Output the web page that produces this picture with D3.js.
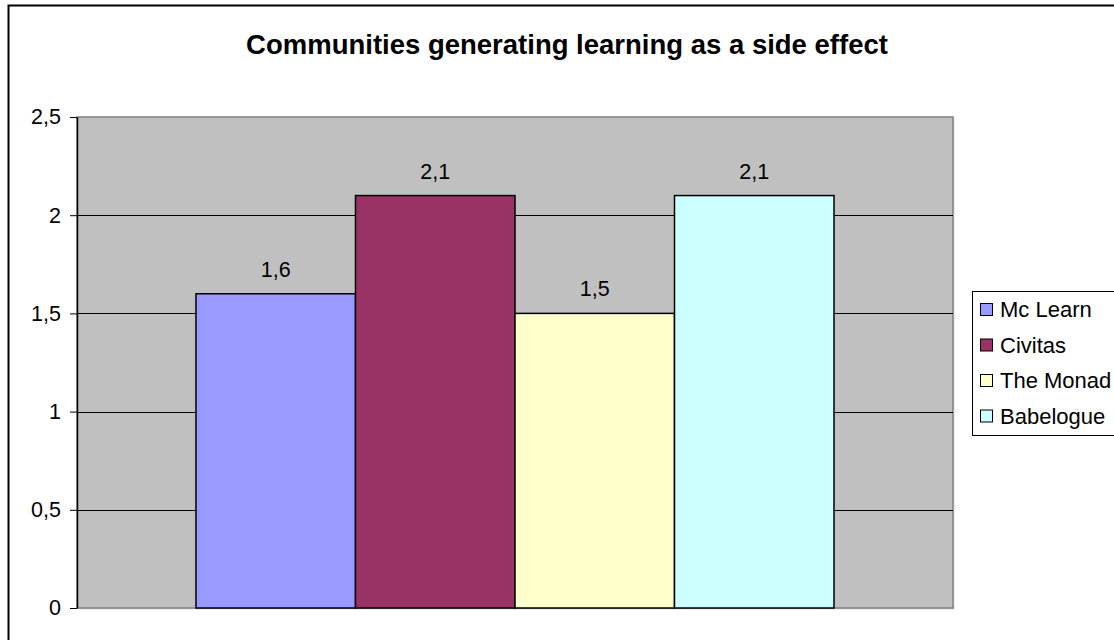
<!DOCTYPE html>
<html>
<head>
<meta charset="utf-8">
<script src="https://cdn.jsdelivr.net/npm/d3@7"></script>
<style>
	body { margin: 0; background: #fff; }
	svg { display: block; font-family: "Liberation Sans", Arial, sans-serif; }
</style>
</head>
<body>
<div id="chart"></div>
<script>
// values
var series = ["Mc Learn", "Civitas", "The Monad", "Babelogue"];
var values = [1.6, 2.1, 1.5, 2.1];
var colors = ["#9999ff", "#993366", "#ffffcc", "#ccffff"];
var yTicks = [0, 0.5, 1, 1.5, 2, 2.5];
var title = "Communities generating learning as a side effect";

var W = 1114, H = 640;
var plot = {left: 77, top: 117, right: 953, bottom: 608};
var fmt = d => String(d).replace(".", ",");

var svg = d3.select("#chart").append("svg")
		.attr("width", W)
		.attr("height", H);

// outer chart frame, right and bottom run off the picture
svg.append("rect")
		.attr("x", 8.5).attr("y", 5.5)
		.attr("width", W).attr("height", H)
		.attr("fill", "#fff")
		.attr("stroke", "#000")
		.attr("stroke-width", 2);

svg.append("text")
		.attr("x", 567).attr("y", 54)
		.attr("text-anchor", "middle")
		.attr("font-size", 27.5)
		.attr("font-weight", "bold")
		.text(title);

var y = d3.scaleLinear()
		.domain([0, 2.5])
		.range([plot.bottom, plot.top]);

var x = d3.scaleBand()
		.domain(series)
		.range([plot.left, plot.right])
		.paddingInner(0)
		.paddingOuter(0.746);

// plot area
svg.append("rect")
		.attr("x", plot.left + 1.5).attr("y", plot.top + 1.5)
		.attr("width", plot.right - plot.left).attr("height", plot.bottom - plot.top)
		.attr("fill", "#d9d9d9");
svg.append("rect")
		.attr("x", plot.left).attr("y", plot.top)
		.attr("width", plot.right - plot.left).attr("height", plot.bottom - plot.top)
		.attr("fill", "#c0c0c0")
		.attr("stroke", "#808080")
		.attr("stroke-width", 1.5);

// gridlines
svg.append("g")
	.selectAll("line")
	.data(yTicks.filter(d => d > 0 && d < 2.5))
	.enter().append("line")
		.attr("x1", plot.left).attr("x2", plot.right)
		.attr("y1", d => Math.round(y(d)) + 0.5)
		.attr("y2", d => Math.round(y(d)) + 0.5)
		.attr("stroke", "#000")
		.attr("stroke-width", 1);

// y axis
var yaxis = d3.axisLeft(y)
		.tickValues(yTicks)
		.tickFormat(fmt)
		.tickSize(7)
		.tickPadding(9)
		.tickSizeOuter(0);

var ax = svg.append("g")
		.attr("transform", `translate(${plot.left}, 0)`)
		.call(yaxis);
ax.select(".domain").attr("stroke", "#000").attr("stroke-width", 1.5);
ax.selectAll("text")
		.attr("font-size", 21.5)
		.attr("font-family", "Liberation Sans, Arial, sans-serif")
		.attr("fill", "#000");

// bars
svg.append("g")
	.selectAll("rect")
	.data(series)
	.enter().append("rect")
		.attr("x", d => x(d))
		.attr("y", (d, i) => y(values[i]))
		.attr("width", x.bandwidth())
		.attr("height", (d, i) => y(0) - y(values[i]))
		.attr("fill", (d, i) => colors[i])
		.attr("stroke", "#000")
		.attr("stroke-width", 1.5);

// value labels
svg.append("g")
	.selectAll("text")
	.data(series)
	.enter().append("text")
		.attr("x", d => x(d) + x.bandwidth() / 2)
		.attr("y", (d, i) => y(values[i]) - 17)
		.attr("text-anchor", "middle")
		.attr("font-size", 21.5)
		.text((d, i) => fmt(values[i]));

// legend, box runs off the right edge
var legend = svg.append("g");
legend.append("rect")
		.attr("x", 972.5).attr("y", 291.5)
		.attr("width", 160).attr("height", 144)
		.attr("fill", "#fff")
		.attr("stroke", "#000")
		.attr("stroke-width", 1);

var item = legend.selectAll(".item")
		.data(series)
	.enter().append("g")
		.attr("class", "item")
		.attr("transform", (d, i) => `translate(980, ${309 + i * 35.5})`);

item.append("rect")
		.attr("x", 0.5).attr("y", -5.5)
		.attr("width", 12).attr("height", 12)
		.attr("fill", (d, i) => colors[i])
		.attr("stroke", "#000")
		.attr("stroke-width", 1);

item.append("text")
		.attr("x", 20)
		.attr("y", 8)
		.attr("font-size", 22)
		.text(d => d);
</script>
</body>
</html>
